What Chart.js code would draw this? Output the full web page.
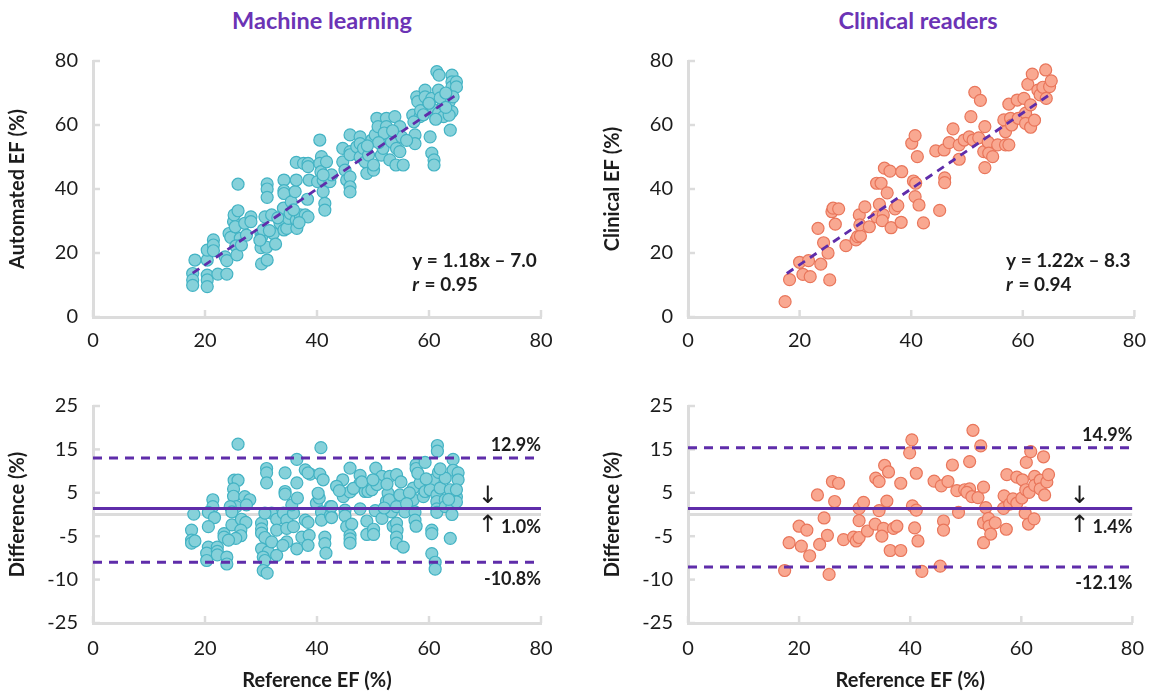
<!DOCTYPE html>
<html>
<head>
<meta charset="utf-8">
<script src="https://cdn.jsdelivr.net/npm/chart.js@4.4.0/dist/chart.umd.min.js"></script>
<style>
  body { margin: 0; width: 1150px; height: 694px; background: #fff; position: relative; overflow: hidden; }
  .box { position: absolute; }
  .title { position: absolute; top: 6px; width: 400px; text-align: center; font: bold 23.5px Lato, sans-serif; color: #6b33b5; }
</style>
</head>
<body>
<div class="title" style="left:122px">Machine learning</div>
<div class="title" style="left:718px">Clinical readers</div>
<canvas id="mlTopChart" class="box" style="left:0;top:42px" width="575" height="313"></canvas>
<canvas id="clTopChart" class="box" style="left:595px;top:42px" width="555" height="313"></canvas>
<canvas id="mlDiffChart" class="box" style="left:0;top:387px" width="575" height="307"></canvas>
<canvas id="clDiffChart" class="box" style="left:595px;top:387px" width="555" height="307"></canvas>
<script>
// ticks
const efTicks = [0, 20, 40, 60, 80];
const diffTicks = [-25, -15, -5, 5, 15, 25];
const diffTickLabels = ["-25", "-10", "-5", "5", "15", "25"];

// machine learning: [reference EF, automated EF]
const mlPoints = [
  [17.8,13.6],[17.8,11.6],[17.8,9.9],[18.2,17.8],[20.4,13.1],[20.4,11.6],[20.4,9.5],[20.4,17.8],[20.4,20.9],
  [21.5,24.1],[21.5,22.5],[21.5,20.7],[22.3,13.4],[23.9,13.4],[23.6,18.8],[23.9,17.6],[24.3,26.1],[24.6,24.9],
  [25.1,29.8],[25.2,31.9],[25.9,33.2],[25.4,28.2],[25.9,41.5],[26.3,24.6],[25.5,22.2],[25.7,19.4],[26.5,22.5],
  [27.1,29.3],[28.2,31.3],[28.2,29.8],[27.4,25.6],[30.0,21.7],[30.1,16.6],[30.0,26.1],[30.1,25.0],[30.4,27.2],
  [30.7,31.3],[31.0,21.8],[31.1,17.8],[31.1,41.6],[31.1,40.0],[31.1,37.4],[31.9,31.9],[32.2,26.1],[32.6,22.8],
  [33.4,29.3],[34.0,34.0],[34.1,42.8],[34.1,39.5],[34.1,38.6],[34.1,27.2],[34.6,27.7],[34.9,30.8],[35.2,32.4],
  [35.4,36.0],[36.1,39.2],[36.3,42.8],[36.3,30.3],[36.4,27.7],[37.0,31.9],[37.9,31.9],[38.4,31.3],[36.3,48.3],
  [37.6,48.0],[38.4,48.0],[38.4,47.0],[38.6,42.8],[38.3,36.8],[40.5,55.3],[40.8,50.1],[40.5,48.0],[40.7,45.4],
  [40.1,42.3],[41.1,42.8],[41.1,39.2],[41.4,35.5],[41.4,33.4],[41.7,48.5],[42.3,42.3],[42.6,44.4],[41.1,44.4],
  [44.6,52.7],[44.6,48.5],[45.0,45.9],[45.3,42.8],[45.9,56.9],[45.9,51.7],[45.9,43.8],[45.9,40.7],[45.9,39.1],
  [45.9,50.7],[47.1,53.2],[47.7,56.3],[47.7,54.2],[47.7,50.0],[48.3,52.7],[48.6,48.5],[48.9,44.9],[49.2,50.6],
  [49.8,55.3],[50.1,45.9],[50.1,47.5],[50.7,62.1],[50.4,56.9],[50.9,59.5],[51.5,50.6],[51.8,52.7],[52.4,62.1],
  [52.4,59.5],[52.7,56.9],[53.0,49.1],[53.3,54.8],[53.9,62.6],[54.1,47.5],[54.2,52.7],[54.8,59.5],[55.1,56.3],
  [55.4,47.5],[54.8,51.7],[57.1,63.1],[57.5,56.9],[57.5,54.2],[57.8,68.8],[58.0,67.3],[58.4,62.6],[59.3,70.9],
  [59.3,68.8],[59.6,65.2],[60.2,56.3],[60.5,68.3],[60.5,51.2],[60.9,49.1],[60.9,47.5],[60.8,64.7],[61.7,70.9],
  [61.7,63.7],[61.4,76.7],[61.8,75.6],[62.6,66.3],[62.6,62.6],[63.6,67.3],[63.8,58.4],[64.1,75.6],[64.1,73.5],
  [64.1,71.9],[64.9,73.5],[64.9,71.9],[64.3,68.8],[64.1,64.2],[63.6,63.1],[52.0,57.5],[53.5,58.2],[51.0,54.5],
  [49.0,53.5],[56.0,55.2],[58.5,64.5],[60.0,66.8],[62.0,68.5],[63.0,65.5],[57.3,61.0],[59.0,63.2],[61.2,61.8],
  [63.0,70.0],[35.8,33.5],[36.8,29.5],[33.0,31.0],[29.8,24.0],[31.5,27.0]
];
const mlFitX = [17.8, 65.0];
const mlFitY = [13.7, 69.6];

// machine learning: [reference EF, difference]
const mlDiffPoints = [
  [25.9,16.2],[31.0,10.6],[31.0,9.6],[31.0,7.3],[34.3,9.6],[36.4,12.7],[36.4,7.3],[37.9,10.3],[38.8,9.3],
  [40.7,15.4],[40.5,9.3],[25.2,7.9],[25.9,7.9],[25.1,5.9],[25.1,4.2],[25.6,1.8],[24.5,1.8],[24.8,0.6],
  [27.1,4.1],[28.0,3.4],[27.4,2.2],[21.4,3.4],[21.4,1.8],[20.6,0.5],[21.7,-0.7],[18.0,0.1],[17.6,-3.6],
  [17.6,-5.9],[17.6,-6.6],[18.2,-6.1],[20.6,-2.8],[20.6,-7.5],[20.3,-8.9],[20.3,-10.6],[22.2,-7.5],[22.2,-8.5],
  [22.2,-9.3],[23.9,-9.8],[23.9,-11.4],[23.4,-4.4],[23.4,-5.2],[24.8,-2.4],[26.5,-1.1],[27.3,-1.8],[26.4,-3.6],
  [26.4,-4.9],[25.5,-5.5],[24.2,-5.9],[30.1,-2.0],[30.1,-3.3],[30.1,-4.3],[30.7,-5.3],[30.1,-7.9],[31.3,-8.6],
  [30.4,-9.8],[30.7,-10.6],[30.4,-12.9],[31.1,-13.5],[31.9,0.3],[30.7,0.3],[32.8,-1.1],[32.8,-3.6],[32.8,-9.4],
  [31.9,-6.3],[34.0,0.3],[34.3,5.3],[34.3,4.7],[34.6,-1.3],[34.6,-3.2],[34.6,-6.3],[33.9,-7.1],[35.8,0.3],
  [35.8,-2.8],[35.5,2.2],[36.5,3.8],[36.4,-7.9],[37.3,-5.2],[37.9,-1.3],[38.4,-1.8],[38.6,-4.8],[38.4,9.6],
  [38.4,-7.1],[39.9,2.6],[40.4,3.8],[40.8,0.6],[40.8,-1.3],[41.4,-5.2],[41.4,-6.7],[41.6,-8.9],[40.2,4.9],
  [41.1,8.0],[42.4,1.8],[42.4,-0.2],[61.5,15.9],[61.5,14.6],[45.9,10.7],[44.6,8.0],[47.7,9.0],[47.7,7.2],
  [50.5,10.7],[51.6,8.8],[53.0,8.8],[54.2,9.2],[57.7,11.5],[57.7,10.6],[59.3,12.0],[60.8,8.0],[61.7,9.7],
  [64.3,12.7],[64.3,10.2],[65.2,9.6],[65.2,8.0],[44.7,4.1],[45.9,5.2],[45.0,1.0],[45.0,-0.3],[45.3,-2.8],
  [46.2,-2.2],[45.9,-4.8],[45.9,-5.6],[45.9,-6.6],[47.7,1.3],[48.9,-1.5],[48.9,-4.6],[50.1,-3.4],[50.1,-4.6],
  [48.6,5.3],[49.1,5.3],[49.8,5.7],[50.7,6.9],[50.4,0.9],[51.6,-0.9],[52.4,3.0],[52.7,4.9],[53.3,0.6],
  [53.6,-2.7],[54.2,-2.0],[54.3,-3.6],[54.2,-5.2],[54.2,-6.6],[55.4,-7.5],[52.9,3.4],[54.2,1.8],[54.8,4.5],
  [55.7,0.6],[57.2,6.1],[57.2,3.4],[57.5,0.6],[57.5,-1.3],[57.7,-2.7],[58.4,7.3],[59.0,4.1],[59.3,5.3],
  [60.2,5.7],[60.5,-3.6],[60.5,-4.4],[60.5,-9.0],[61.1,-11.0],[61.1,-12.6],[61.4,4.5],[61.4,3.0],[61.4,1.3],
  [61.4,0.5],[62.0,6.1],[62.9,8.4],[62.9,3.4],[62.9,1.8],[63.8,5.7],[64.1,1.8],[64.1,0.0],[63.8,-5.5],
  [64.9,4.1],[64.9,5.7],[64.9,2.9],[42.6,1.8],[42.6,-0.7],[43.5,6.5],[44.0,5.5],[46.5,6.0],[48.0,7.5],
  [50.0,8.0],[52.5,7.0],[55.0,7.5],[56.5,5.0],[58.0,9.5],[59.5,8.2],[62.0,10.5],[63.5,3.5],[56.0,2.5],[52.0,1.5]
];
// bias and limits as drawn: [lower, mean, upper]
const mlLimits = [-11.0, 1.4, 13.0];
const mlLimitLabels = ["-10.8%", "1.0%", "12.9%"];

// clinical readers: [reference EF, clinical EF]
const clPoints = [
  [17.4,4.8],[18.2,11.7],[20.0,17.1],[20.6,13.3],[21.6,17.6],[21.9,12.6],[23.8,16.5],[23.3,27.7],[24.3,23.2],
  [25.1,20.0],[25.4,11.6],[25.8,32.9],[26.0,34.0],[27.0,33.8],[26.4,29.0],[28.3,22.3],[30.1,24.1],[30.4,25.1],
  [30.9,25.3],[30.7,31.9],[30.8,28.8],[31.7,34.4],[32.5,28.2],[33.8,41.8],[34.6,41.8],[34.3,35.2],[33.8,31.3],
  [35.0,31.9],[34.8,30.1],[35.2,46.5],[36.2,45.6],[35.7,38.8],[36.4,27.9],[37.1,33.8],[37.6,34.8],[38.3,45.4],
  [38.2,29.6],[40.1,54.3],[40.7,56.7],[41.1,50.1],[40.4,42.5],[40.8,41.8],[40.7,37.6],[41.4,35.0],[42.2,29.4],
  [45.1,33.3],[46.0,43.5],[46.0,42.0],[44.4,51.9],[45.9,52.2],[46.8,54.5],[47.5,58.8],[48.6,53.8],[48.6,49.3],
  [49.5,55.3],[50.4,56.3],[50.7,62.6],[51.1,55.3],[52.1,56.0],[51.4,70.2],[52.4,67.7],[53.2,59.5],[53.0,51.7],
  [53.8,54.6],[53.9,51.2],[54.6,50.1],[53.2,46.7],[55.5,53.8],[56.9,53.8],[57.5,53.8],[56.6,61.6],[56.9,57.9],
  [57.5,66.5],[57.8,62.1],[58.0,60.0],[59.0,67.8],[59.2,62.1],[60.2,68.3],[60.5,63.7],[60.9,72.7],[61.4,66.3],
  [61.7,75.9],[60.5,60.5],[61.4,59.3],[62.1,61.5],[62.7,70.9],[63.1,69.4],[63.6,71.8],[64.1,77.2],[64.2,68.3],
  [64.8,72.0],[65.1,73.8]
];
const clFitX = [17.7, 64.9];
const clFitY = [13.6, 69.6];

// clinical readers: [reference EF, difference]
const clDiffPoints = [
  [17.4,-12.9],[18.2,-6.5],[20.4,-7.3],[20.0,-2.7],[21.4,-3.6],[21.9,-9.5],[23.3,4.5],[23.7,-6.9],[24.5,-0.8],
  [25.1,-4.8],[25.4,-13.8],[26.0,7.6],[27.1,7.2],[26.4,3.0],[28.0,-5.8],[29.8,-5.2],[30.3,-6.1],[30.8,-5.3],
  [30.8,1.4],[31.6,2.8],[30.8,-1.4],[32.3,-3.8],[33.8,8.4],[34.4,7.6],[33.7,-2.2],[34.4,0.9],[35.2,-3.2],
  [34.9,-5.0],[35.4,11.3],[36.1,9.8],[35.8,3.1],[36.4,-8.3],[37.0,-3.2],[37.6,-2.7],[38.3,7.2],[38.3,-8.3],
  [39.9,14.2],[40.3,17.2],[40.4,2.0],[41.1,1.0],[41.1,9.5],[40.8,-3.1],[41.4,-6.1],[42.1,-13.1],[44.3,7.7],
  [45.6,6.6],[46.8,7.6],[45.4,-11.9],[46.0,-1.5],[46.0,-3.6],[47.6,11.4],[48.4,5.5],[48.7,0.5],[49.8,5.7],
  [50.7,5.9],[50.7,12.2],[50.2,5.1],[51.1,4.1],[51.3,19.4],[52.2,3.9],[52.7,15.8],[53.2,6.3],[53.2,-1.9],
  [53.2,-6.5],[53.6,1.6],[54.1,-0.9],[54.2,-2.7],[54.5,-4.5],[55.3,-1.9],[56.8,1.4],[56.9,4.3],[57.3,-3.4],
  [57.4,9.2],[57.9,2.4],[58.5,3.6],[59.2,8.6],[59.2,2.6],[60.2,8.0],[60.1,3.8],[60.7,0.3],[60.9,12.0],
  [60.8,5.7],[61.4,5.1],[61.3,-2.2],[61.7,14.5],[62.3,-1.0],[62.4,8.8],[62.4,6.7],[63.4,7.9],[63.4,5.9],
  [64.0,13.3],[64.2,4.5],[64.6,7.5],[64.9,9.2]
];
const clLimits = [-12.1, 1.4, 15.4];
const clLimitLabels = ["-12.1%", "1.4%", "14.9%"];

const PURPLE = "#5f2daa";
const AXIS_GREY = "#dcdcdc";
const TEXT = "#1c1c1c";
const FONT = "Lato, 'Noto Sans', sans-serif";

const ML_COLORS = { fill: "#86d1da", border: "#43b3c4" };
const CL_COLORS = { fill: "#f9a891", border: "#e9765b" };

// small inward tick marks on both axes, like the original
const innerTicks = {
  id: "innerTicks",
  beforeDatasetsDraw(chart) {
    const { ctx, chartArea, scales } = chart;
    ctx.save();
    ctx.strokeStyle = AXIS_GREY;
    ctx.lineWidth = 2.5;
    scales.x.ticks.forEach((t) => {
      const px = scales.x.getPixelForValue(t.value);
      ctx.beginPath();
      ctx.moveTo(px, chartArea.bottom);
      ctx.lineTo(px, chartArea.bottom - 7);
      ctx.stroke();
    });
    scales.y.ticks.forEach((t) => {
      const py = scales.y.getPixelForValue(t.value);
      ctx.beginPath();
      ctx.moveTo(chartArea.left, py);
      ctx.lineTo(chartArea.left + 7, py);
      ctx.stroke();
    });
    ctx.restore();
  },
};

// text notes placed in data coordinates
const notes = {
  id: "notes",
  afterDatasetsDraw(chart, args, opts) {
    const { ctx, scales } = chart;
    (opts.items || []).forEach((n) => {
      const px = scales.x.getPixelForValue(n.x);
      const py = scales.y.getPixelForValue(n.y);
      ctx.save();
      ctx.fillStyle = TEXT;
      ctx.textBaseline = "middle";
      ctx.textAlign = n.align || "left";
      if (n.italic) {
        ctx.font = "italic bold " + n.size + "px " + FONT;
        ctx.fillText(n.italic, px, py);
        const w = ctx.measureText(n.italic).width;
        ctx.font = "bold " + n.size + "px " + FONT;
        ctx.fillText(n.text, px + w + 1, py);
      } else {
        ctx.font = (n.weight || "bold") + " " + n.size + "px " + (n.family || FONT);
        ctx.fillText(n.text, px, py);
      }
      ctx.restore();
    });
  },
};

function toXY(arr) {
  return arr.map((p) => ({ x: p[0], y: p[1] }));
}

function pointSet(arr, colors) {
  return {
    type: "scatter",
    data: toXY(arr),
    pointRadius: 6,
    pointBackgroundColor: colors.fill,
    pointBorderColor: colors.border,
    pointBorderWidth: 1.2,
    order: 2,
  };
}

function lineSet(xs, ys, color, width, dash, order) {
  return {
    type: "scatter",
    data: [{ x: xs[0], y: ys[0] }, { x: xs[1], y: ys[1] }],
    showLine: true,
    borderColor: color,
    borderWidth: width,
    borderDash: dash,
    pointRadius: 0,
    order: order,
  };
}

function xScale(showTitle) {
  return {
    type: "linear",
    min: 0,
    max: 80,
    afterBuildTicks: (s) => { s.ticks = efTicks.map((v) => ({ value: v })); },
    afterFit: (s) => { s.height = showTitle ? 71 : 38; },
    grid: { display: false },
    border: { color: AXIS_GREY, width: 3 },
    ticks: { color: TEXT, font: { family: FONT, size: 20 }, padding: showTitle ? 6 : 4, maxRotation: 0 },
    title: {
      display: showTitle,
      text: "Reference EF (%)",
      color: TEXT,
      font: { family: FONT, size: 20, weight: "bold" },
      padding: { top: 0, bottom: 1 },
    },
  };
}

function yScale(title, min, max, tickValues, tickLabels) {
  return {
    type: "linear",
    min: min,
    max: max,
    afterBuildTicks: (s) => { s.ticks = tickValues.map((v) => ({ value: v })); },
    afterFit: (s) => { s.width = 93; },
    grid: { display: false },
    border: { color: AXIS_GREY, width: 3 },
    ticks: {
      color: TEXT,
      font: { family: FONT, size: 20 },
      padding: 7,
      callback: (v) => (tickLabels ? tickLabels[tickValues.indexOf(v)] : String(v)),
    },
    title: {
      display: true,
      text: title,
      color: TEXT,
      font: { family: FONT, size: 20, weight: "bold" },
      padding: { top: 6, bottom: 0 },
    },
  };
}

function baseOptions(padRight, padTop, xs, ys, items) {
  return {
    responsive: false,
    animation: false,
    events: [],
    layout: { autoPadding: false, padding: { left: 0, right: padRight, top: padTop, bottom: 0 } },
    scales: { x: xs, y: ys },
    plugins: { legend: { display: false }, tooltip: { enabled: false }, notes: { items: items } },
  };
}

function scatterChart(id, points, colors, fitX, fitY, yTitle, eq, r, padRight) {
  new Chart(document.getElementById(id), {
    type: "scatter",
    data: {
      datasets: [pointSet(points, colors), lineSet(fitX, fitY, PURPLE, 2.8, [8, 6], 0)],
    },
    options: baseOptions(padRight, 4, xScale(false), yScale(yTitle, 0, 80, efTicks, null), [
      { x: 57.0, y: 17.5, text: eq, size: 19 },
      { x: 57.0, y: 10.0, italic: "r", text: " = " + r, size: 19 },
    ]),
    plugins: [innerTicks, notes],
  });
}

function diffChart(id, points, colors, limits, labels, padRight) {
  new Chart(document.getElementById(id), {
    type: "scatter",
    data: {
      datasets: [
        lineSet([0, 80], [0, 0], AXIS_GREY, 3, [], 3),
        pointSet(points, colors),
        lineSet([0, 80], [limits[1], limits[1]], PURPLE, 3, [], 0),
        lineSet([0, 80], [limits[0], limits[0]], PURPLE, 3, [9, 7], 0),
        lineSet([0, 80], [limits[2], limits[2]], PURPLE, 3, [9, 7], 0),
      ],
    },
    options: baseOptions(padRight, 5, xScale(true), yScale("Difference (%)", -25, 25, diffTicks, diffTickLabels), [
      { x: 80, y: limits[2] + 2.9, text: labels[2], size: 18, align: "right" },
      { x: 80, y: -2.9, text: labels[1], size: 18, align: "right" },
      { x: 80, y: limits[0] - 3.8, text: labels[0], size: 18, align: "right" },
      { x: 70.5, y: 4.0, text: "\u2193", size: 24, align: "center", weight: "normal", family: "'DejaVu Sans'" },
      { x: 70.5, y: -2.6, text: "\u2191", size: 24, align: "center", weight: "normal", family: "'DejaVu Sans'" },
    ]),
    plugins: [innerTicks, notes],
  });
}

scatterChart("mlTopChart", mlPoints, ML_COLORS, mlFitX, mlFitY, "Automated EF (%)", "y = 1.18x \u2013 7.0", "0.95", 34);
scatterChart("clTopChart", clPoints, CL_COLORS, clFitX, clFitY, "Clinical EF (%)", "y = 1.22x \u2013 8.3", "0.94", 14);
diffChart("mlDiffChart", mlDiffPoints, ML_COLORS, mlLimits, mlLimitLabels, 34);
diffChart("clDiffChart", clDiffPoints, CL_COLORS, clLimits, clLimitLabels, 14);
</script>
</body>
</html>
